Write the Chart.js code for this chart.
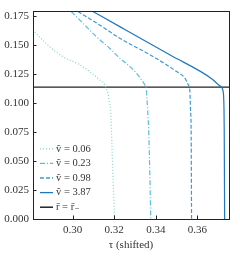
<!DOCTYPE html>
<html>
<head>
<meta charset="utf-8">
<script src="https://cdn.jsdelivr.net/npm/chart.js@4"></script>
<style>
  html, body { margin: 0; padding: 0; background: #fff; }
  #wrap { width: 240px; height: 262px; }
</style>
</head>
<body>
<div id="wrap"><canvas id="grafico"></canvas></div>
<script>
// tick labels
const xTicks = [0.30, 0.32, 0.34, 0.36]
const yTicks = [0, 0.025, 0.05, 0.075, 0.1, 0.125, 0.15, 0.175]

// series (tau shifted, r)
const labels = ['\u1e7d = 0.06', '\u1e7d = 0.23', '\u1e7d = 0.98', '\u1e7d = 3.87', 'r\u0304 = r\u0304\u208b']

const tau006 = [0.2809, 0.2889, 0.2953, 0.3034, 0.3082, 0.3130, 0.3154, 0.3170, 0.3178, 0.3183, 0.3187, 0.3193, 0.3202]
const r006   = [0.1632, 0.1488, 0.1402, 0.1331, 0.1272, 0.1201, 0.1158, 0.1086, 0.1000, 0.0943, 0.0770, 0.0425, 0.0]

const tau023 = [0.2994, 0.3050, 0.3114, 0.3178, 0.3227, 0.3275, 0.3307, 0.3331, 0.3347, 0.3355, 0.3358, 0.3361, 0.3366, 0.3371, 0.3376]
const r023   = [0.1790, 0.1690, 0.1574, 0.1474, 0.1388, 0.1316, 0.1259, 0.1201, 0.1158, 0.1115, 0.1028, 0.0943, 0.0770, 0.0425, 0.0]

const tau098 = [0.3026, 0.3130, 0.3227, 0.3387, 0.3500, 0.3540, 0.3556, 0.3564, 0.3567, 0.3570, 0.3572]
const r098   = [0.1790, 0.1675, 0.1560, 0.1402, 0.1272, 0.1216, 0.1158, 0.1100, 0.0943, 0.0770, 0.0]

const tau387 = [0.3098, 0.3227, 0.3467, 0.3670, 0.3693, 0.3708, 0.3724, 0.3728, 0.3729, 0.3731]
const r387   = [0.1790, 0.1660, 0.1417, 0.1209, 0.1172, 0.1149, 0.1100, 0.0943, 0.0770, 0.0]

const rMinus = 0.1138
const xMin = 0.281, xMax = 0.3752, yMin = 0, yMax = 0.1795

const cores = ['#80d6cf', '#5bbddf', '#3c9ad2', '#1f78be', '#222222']
const tracos = [[1, 2], [5, 2, 1, 2], [4, 2], [], []]

function pares(xs, ys) {
    return xs.map((x, i) => ({ x: x, y: ys[i] }))
}

const series = [
    pares(tau006, r006),
    pares(tau023, r023),
    pares(tau098, r098),
    pares(tau387, r387),
    [{ x: xMin, y: rMinus }, { x: xMax, y: rMinus }]
]

const fonte = '"Liberation Serif", "DejaVu Serif", serif'

// frame, inward ticks and legend
const extras = {
    id: 'extras',
    afterDatasetsDraw(chart) {
        const ctx = chart.ctx
        const a = chart.chartArea
        const sx = chart.scales.x, sy = chart.scales.y
        ctx.save()
        ctx.strokeStyle = '#222'
        ctx.lineWidth = 1
        ctx.strokeRect(Math.round(a.left) + 0.5, Math.round(a.top) + 0.5,
            Math.round(a.right - a.left), Math.round(a.bottom - a.top))
        ctx.beginPath()
        xTicks.forEach(v => {
            const px = Math.round(sx.getPixelForValue(v)) + 0.5
            ctx.moveTo(px, a.bottom)
            ctx.lineTo(px, a.bottom - 3.5)
        })
        yTicks.forEach(v => {
            const py = Math.round(sy.getPixelForValue(v)) + 0.5
            ctx.moveTo(a.left, py)
            ctx.lineTo(a.left + 3.5, py)
        })
        ctx.stroke()

        // legend
        ctx.font = '10.5px ' + fonte
        ctx.textBaseline = 'middle'
        ctx.fillStyle = '#333'
        labels.forEach((t, i) => {
            const y = a.bottom - 11.8 - (labels.length - 1 - i) * 14.6
            ctx.beginPath()
            ctx.strokeStyle = cores[i]
            ctx.lineWidth = i == 4 ? 1.5 : 1.3
            ctx.setLineDash(tracos[i])
            ctx.moveTo(a.left + 7, y)
            ctx.lineTo(a.left + 20, y)
            ctx.stroke()
            ctx.setLineDash([])
            ctx.fillText(t, a.left + 23, y)
        })
        ctx.restore()
    }
}

new Chart(document.getElementById('grafico'), {
    type: 'scatter',
    data: {
        datasets: series.map((d, i) => ({
            label: labels[i],
            data: d,
            showLine: true,
            borderColor: cores[i],
            borderWidth: i == 4 ? 1.3 : 1.2,
            borderDash: tracos[i],
            pointRadius: 0,
            cubicInterpolationMode: 'monotone',
            fill: false
        }))
    },
    options: {
        responsive: true,
        maintainAspectRatio: false,
        animation: false,
        events: [],
        layout: { padding: { top: 11, right: 11, left: 0, bottom: 10 } },
        plugins: { legend: { display: false }, tooltip: { enabled: false } },
        scales: {
            x: {
                type: 'linear',
                min: xMin,
                max: xMax,
                afterBuildTicks: s => { s.ticks = xTicks.map(v => ({ value: v })) },
                afterFit: s => { s.height = 33 },
                grid: { display: false, drawTicks: false },
                border: { display: false },
                ticks: {
                    color: '#333',
                    padding: 5,
                    maxRotation: 0,
                    font: { family: fonte, size: 11 },
                    callback: v => v.toFixed(2)
                },
                title: {
                    display: true,
                    text: '\u03c4 (shifted)',
                    color: '#333',
                    padding: { top: 1, bottom: 0 },
                    font: { family: fonte, size: 11 }
                }
            },
            y: {
                type: 'linear',
                min: yMin,
                max: yMax,
                afterBuildTicks: s => { s.ticks = yTicks.map(v => ({ value: v })) },
                afterFit: s => { s.width = 33 },
                grid: { display: false, drawTicks: false },
                border: { display: false },
                ticks: {
                    color: '#333',
                    padding: 4,
                    font: { family: fonte, size: 11 },
                    callback: v => v.toFixed(3)
                }
            }
        }
    },
    plugins: [extras]
})
</script>
</body>
</html>
